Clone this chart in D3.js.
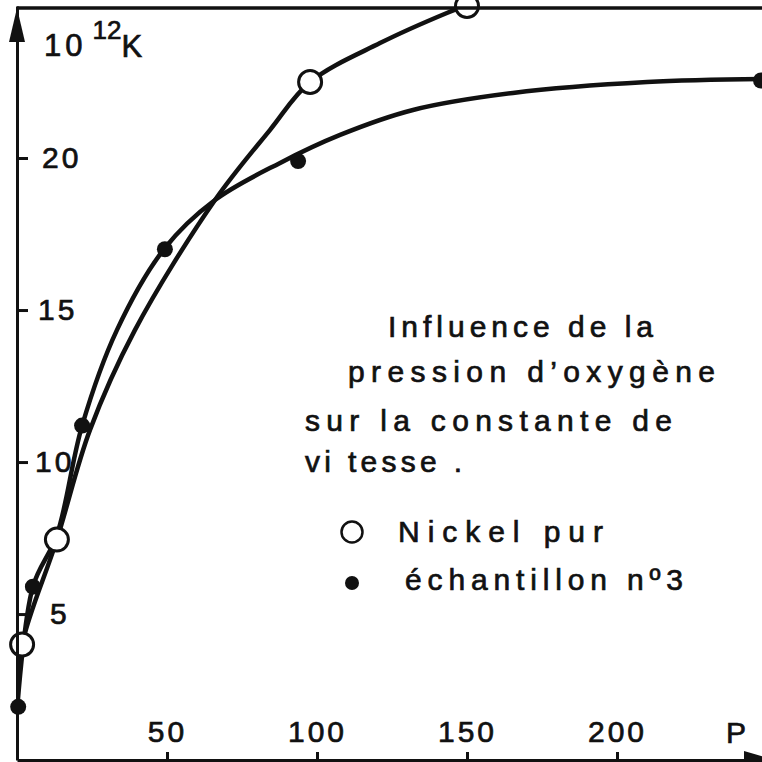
<!DOCTYPE html>
<html>
<head>
<meta charset="utf-8">
<script src="https://cdn.jsdelivr.net/npm/d3@7/dist/d3.min.js"></script>
<style>
  html, body { margin: 0; padding: 0; background: #fff; }
  svg { display: block; }
  text { font-family: "Liberation Sans", "DejaVu Sans", sans-serif; fill: #111; stroke: #111; stroke-width: 0.7px; }
</style>
</head>
<body>
<script>
// Rate constant K (x10^12) versus oxygen pressure P
const xTicks = [50, 100, 150, 200];
const yTicks = [5, 10, 15, 20];

// Measured points: pure nickel (open circles)
const nickelP = [1.7, 13.3, 97.7, 150];
const nickelK = [4.0, 7.45, 22.5, 25.0];

// Measured points: sample no. 3 (filled dots)
const sampleP = [0.4, 5.3, 21.7, 49.3, 93.7, 248];
const sampleK = [1.95, 5.9, 11.2, 17.0, 19.9, 22.55];

// Hand-drawn trend curves through each series
const nickelCurveP = [0, 1.7, 13.3, 24.3, 39.3, 66, 84.3, 97.7, 121, 143.3, 152];
const nickelCurveK = [2.0, 4.0, 7.45, 11.05, 14.34, 18.62, 20.92, 22.5, 23.78, 24.77, 25.1];
const sampleCurveP = [0, 5.3, 13.3, 21.7, 33.3, 49.3, 66, 87.7, 107.7, 132, 165.3, 210, 250];
const sampleCurveK = [1.78, 5.9, 7.6, 11.2, 14.34, 17.04, 18.62, 19.84, 20.76, 21.58, 22.14, 22.5, 22.6];

const W = 762, H = 762;
const svg = d3.select("body").append("svg").attr("width", W).attr("height", H);

const x = d3.scaleLinear().domain([0, 250]).range([17, 767]);
const y = d3.scaleLinear().domain([0.2, 25]).range([760, 6]);

const ink = "#111";

// clip region: inside the frame
svg.append("clipPath").attr("id", "plot")
  .append("rect").attr("x", 17).attr("y", 8).attr("width", W - 17).attr("height", 752);

// curves
const line = d3.line().x(d => x(d[0])).y(d => y(d[1])).curve(d3.curveCatmullRom.alpha(0.5));
const g = svg.append("g").attr("clip-path", "url(#plot)");
g.append("path")
  .attr("d", line(d3.zip(nickelCurveP, nickelCurveK)))
  .attr("fill", "none").attr("stroke", ink).attr("stroke-width", 4.5).attr("stroke-linecap", "round");
g.append("path")
  .attr("d", line(d3.zip(sampleCurveP, sampleCurveK)))
  .attr("fill", "none").attr("stroke", ink).attr("stroke-width", 4.5).attr("stroke-linecap", "round");

// sample points
svg.append("g").selectAll("circle").data(d3.zip(sampleP, sampleK)).join("circle")
  .attr("cx", d => x(d[0])).attr("cy", d => y(d[1])).attr("r", 8).attr("fill", ink);

// nickel points
svg.append("g").selectAll("circle").data(d3.zip(nickelP, nickelK)).join("circle")
  .attr("cx", d => x(d[0])).attr("cy", d => y(d[1])).attr("r", 11.5)
  .attr("fill", "#fff").attr("stroke", ink).attr("stroke-width", 3);

// top frame line
svg.append("line").attr("x1", 17).attr("x2", W).attr("y1", 8).attr("y2", 8)
  .attr("stroke", ink).attr("stroke-width", 3.5);

// x axis: ticks pointing up, labels above the line
const xAxis = svg.append("g").attr("transform", "translate(0,760)")
  .call(d3.axisTop(x).tickValues(xTicks).tickSizeInner(8).tickSizeOuter(0).tickPadding(10).tickFormat(d3.format("d")));
xAxis.select(".domain").attr("stroke", ink).attr("stroke-width", 3);
xAxis.selectAll(".tick line").attr("stroke", ink).attr("stroke-width", 3);
xAxis.selectAll(".tick text").style("font-size", "30px").style("letter-spacing", "3px").attr("fill", ink);

// y axis: ticks to the right, labels to the right
const yAxis = svg.append("g").attr("transform", "translate(17,0)")
  .call(d3.axisRight(y).tickValues(yTicks).tickSizeInner(11).tickSizeOuter(0).tickPadding(14).tickFormat(d3.format("d")));
yAxis.select(".domain").attr("stroke", ink).attr("stroke-width", 3);
yAxis.selectAll(".tick line").attr("stroke", ink).attr("stroke-width", 3);
yAxis.selectAll(".tick text").style("font-size", "30px").style("letter-spacing", "3px").attr("fill", ink);
yAxis.selectAll(".tick text").filter(d => d === 15).attr("x", 21);
yAxis.selectAll(".tick text").filter(d => d === 10).attr("x", 18);
yAxis.selectAll(".tick text").filter(d => d === 5).attr("x", 33);

// arrowheads
svg.append("path").attr("d", "M17,8 L9,42 L25,42 Z").attr("fill", ink);
svg.append("path").attr("d", "M768,758 L744,751 L744,766 Z").attr("fill", ink);

// axis titles
const yt = svg.append("text").attr("x", 44).attr("y", 56).style("font-size", "31px");
yt.append("tspan").text("10").style("letter-spacing", "4px");
yt.append("tspan").attr("dx", 6).attr("dy", -17).style("font-size", "26px").text("12");
yt.append("tspan").attr("dy", 18).text("K");
svg.append("text").attr("x", 726).attr("y", 743).style("font-size", "30px").text("P");

// annotation
const note = [
  {t: "Influence de la", x: 388, y: 337, w: 265},
  {t: "pression d\u2019oxyg\u00e8ne", x: 348, y: 382, w: 367},
  {t: "sur la constante de", x: 305, y: 431, w: 367},
  {t: "vi tesse .", x: 305, y: 472, w: 157}
];
svg.append("g").selectAll("text").data(note).join("text")
  .attr("x", d => d.x).attr("y", d => d.y)
  .attr("textLength", d => d.w).attr("lengthAdjust", "spacing")
  .style("font-size", "30px").text(d => d.t);

// legend
svg.append("circle").attr("cx", 352).attr("cy", 532).attr("r", 10.5)
  .attr("fill", "#fff").attr("stroke", ink).attr("stroke-width", 2.5);
svg.append("text").attr("x", 398).attr("y", 542).attr("textLength", 205).attr("lengthAdjust", "spacing")
  .style("font-size", "30px").text("Nickel  pur");
svg.append("circle").attr("cx", 352).attr("cy", 583).attr("r", 7).attr("fill", ink);
svg.append("text").attr("x", 405).attr("y", 590).attr("textLength", 278).attr("lengthAdjust", "spacing")
  .style("font-size", "30px").text("\u00e9chantillon  n\u00ba3");
</script>
</body>
</html>
